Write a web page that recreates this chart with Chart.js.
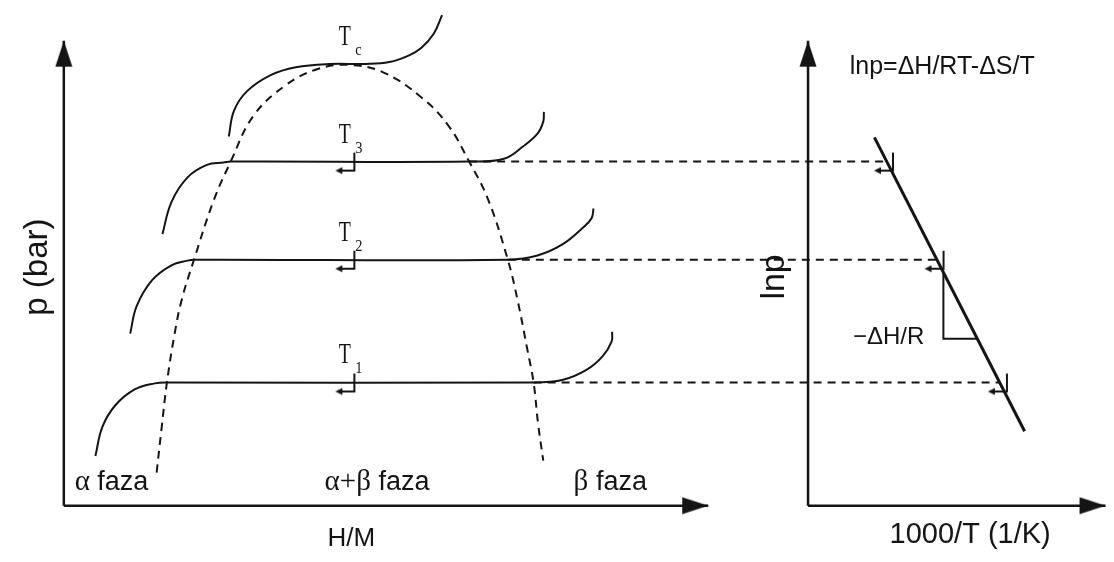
<!DOCTYPE html>
<html>
<head>
    <title>PCT izoterme</title>
    <style type="text/css">
        html, body {
            margin: 0;
            padding: 0;
            background: #fff;
        }

        #wrap {
            width: 1114px;
            height: 562px;
            position: relative;
        }
    </style>
    <script src="https://cdn.jsdelivr.net/npm/chart.js@4.4.1/dist/chart.umd.min.js"></script>
</head>
<body>
    <div id="wrap"><canvas id="pct"></canvas></div>
    <script>
        // left plot: H/M (0..1 along the arrow) vs p (0..1 along the arrow)
        var domeHM = [0.144, 0.152, 0.160, 0.172, 0.183, 0.202, 0.233, 0.259, 0.294, 0.345, 0.394, 0.440,
            0.494, 0.555, 0.597, 0.629, 0.658, 0.689, 0.704, 0.719, 0.729, 0.736, 0.744];
        var domeP = [0.071, 0.170, 0.265, 0.370, 0.443, 0.529, 0.658, 0.740, 0.838, 0.905, 0.939, 0.948,
            0.933, 0.878, 0.817, 0.740, 0.660, 0.529, 0.443, 0.338, 0.265, 0.176, 0.097];

        var t1HM = [0.049, 0.060, 0.080, 0.110, 0.141, 0.160, 0.729, 0.775, 0.811, 0.836, 0.850, 0.851];
        var t1P = [0.107, 0.170, 0.216, 0.250, 0.263, 0.265, 0.265, 0.271, 0.292, 0.321, 0.353, 0.374];
        var t2HM = [0.103, 0.113, 0.137, 0.167, 0.192, 0.202, 0.689, 0.735, 0.775, 0.805, 0.819, 0.822];
        var t2P = [0.370, 0.429, 0.485, 0.517, 0.527, 0.529, 0.529, 0.538, 0.563, 0.597, 0.618, 0.639];
        var t3HM = [0.153, 0.167, 0.192, 0.222, 0.248, 0.259, 0.629, 0.683, 0.713, 0.735, 0.744, 0.745];
        var t3P = [0.584, 0.653, 0.706, 0.733, 0.738, 0.740, 0.740, 0.746, 0.773, 0.800, 0.826, 0.847];
        var tcHM = [0.256, 0.264, 0.284, 0.321, 0.360, 0.413, 0.468, 0.505, 0.535, 0.555, 0.574, 0.587];
        var tcP = [0.794, 0.849, 0.891, 0.926, 0.943, 0.950, 0.950, 0.954, 0.968, 0.985, 1.015, 1.055];

        // plateau levels T1, T2, T3 and where they leave the dome (beta side)
        var plateauP = [0.265, 0.529, 0.740];
        var betaHM = [0.729, 0.689, 0.629];
        var markHM = 0.440;

        // right plot: 1000/T (0..1 along the arrow) vs lnp
        var vhX = [0.223, 0.728];
        var vhP = [0.792, 0.160];
        var tempX = [0.645, 0.432, 0.262];
        var triX = [0.455, 0.455, 0.569];
        var triP = [0.502, 0.359, 0.359];

        var isoNames = ['c', '3', '2', '1'];
        var isoLevels = [0.950, 0.740, 0.529, 0.265];

        // layout of the two arrow axes on the 1114x562 canvas
        var W = 1114, H = 562;
        var orgL = 58, unitL = 652, orgR = 811, unitR = 301;
        var orgY = 511, unitY = 476;
        var ink = '#141414';
        var sans = '"Liberation Sans", Arial, sans-serif';
        var serif = '"Liberation Serif", "Times New Roman", serif';

        function x2ToX(v) {
            return (orgR + v * unitR - orgL) / unitL;
        }

        function pts(xs, ys) {
            return xs.map((x, i) => ({ x: x, y: ys[i] }));
        }

        function makeArrowHead() {
            var c = document.createElement('canvas');
            c.width = 54;
            c.height = 18;
            var g = c.getContext('2d');
            g.fillStyle = ink;
            g.beginPath();
            g.moveTo(27, 9);
            g.lineTo(1, 0.5);
            g.lineTo(1, 17.5);
            g.closePath();
            g.fill();
            return c;
        }

        function makeMarker() {
            var c = document.createElement('canvas');
            c.width = 40;
            c.height = 40;
            var g = c.getContext('2d');
            g.strokeStyle = ink;
            g.lineWidth = 2;
            g.beginPath();
            g.moveTo(27, 11);
            g.lineTo(27, 29);
            g.lineTo(13, 29);
            g.stroke();
            g.fillStyle = ink;
            g.beginPath();
            g.moveTo(8, 29);
            g.lineTo(15, 25.5);
            g.lineTo(15, 32.5);
            g.closePath();
            g.fill();
            return c;
        }

        var arrowHead = makeArrowHead();
        var marker = makeMarker();

        function curve(data, xAxis, opts) {
            return Object.assign({
                data: data,
                xAxisID: xAxis,
                yAxisID: 'y',
                showLine: true,
                borderColor: ink,
                borderWidth: 2,
                pointRadius: 0,
                tension: 0.4,
                fill: false
            }, opts || {});
        }

        function axisArrow(data, xAxis, rotation) {
            return curve(data, xAxis, {
                borderWidth: 2.5,
                tension: 0,
                pointRadius: [0, 1],
                pointStyle: arrowHead,
                pointRotation: rotation
            });
        }

        var datasets = [
            curve(pts(domeHM, domeP), 'x', { borderDash: [8, 6] }),
            curve(pts(t1HM, t1P), 'x'),
            curve(pts(t2HM, t2P), 'x'),
            curve(pts(t3HM, t3P), 'x'),
            curve(pts(tcHM, tcP), 'x'),
            curve(pts(vhX, vhP), 'x2', { borderWidth: 3, tension: 0 }),
            curve(pts(triX, triP), 'x2', { tension: 0 }),
            axisArrow([{ x: 0, y: 0 }, { x: 0, y: 1 }], 'x', -90),
            axisArrow([{ x: 0, y: 0 }, { x: 1, y: 0 }], 'x', 0),
            axisArrow([{ x: 0, y: 0 }, { x: 0, y: 1 }], 'x2', -90),
            axisArrow([{ x: 0, y: 0 }, { x: 1, y: 0 }], 'x2', 0),
            {
                data: plateauP.map(p => ({ x: markHM, y: p })),
                xAxisID: 'x', yAxisID: 'y',
                showLine: false, pointRadius: 1, pointStyle: marker
            },
            {
                data: pts(tempX, plateauP),
                xAxisID: 'x2', yAxisID: 'y',
                showLine: false, pointRadius: 1, pointStyle: marker
            }
        ];

        // dashed tie lines from the beta boundary to the van't Hoff line
        plateauP.forEach((p, i) => {
            datasets.push(curve([{ x: betaHM[i], y: p }, { x: x2ToX(tempX[i]), y: p }], 'x', {
                borderDash: [8, 6],
                tension: 0
            }));
        });

        function drawRuns(ctx, runs, cx, cy) {
            var total = 0;
            runs.forEach(r => {
                ctx.font = r.font;
                r.w = ctx.measureText(r.text).width;
                total += r.w;
            });
            var x = cx - total / 2;
            ctx.textAlign = 'left';
            ctx.textBaseline = 'middle';
            runs.forEach(r => {
                ctx.font = r.font;
                ctx.fillText(r.text, x, cy);
                x += r.w;
            });
        }

        var textPlugin = {
            id: 'diagramText',
            afterDatasetsDraw: function (chart) {
                var ctx = chart.ctx;
                var sx = chart.scales.x, sx2 = chart.scales.x2, sy = chart.scales.y;
                ctx.save();
                ctx.fillStyle = ink;

                // isotherm names
                isoNames.forEach((n, i) => {
                    var px = sx.getPixelForValue(markHM);
                    var py = sy.getPixelForValue(isoLevels[i]);
                    ctx.save();
                    ctx.translate(px - 2.5, py - 19);
                    ctx.scale(0.66, 1);
                    ctx.font = '30px ' + serif;
                    ctx.textAlign = 'center';
                    ctx.textBaseline = 'alphabetic';
                    ctx.fillText('T', 0, 0);
                    ctx.restore();
                    ctx.save();
                    ctx.translate(px + 8, py - 9);
                    ctx.scale(0.85, 1);
                    ctx.font = '17px ' + serif;
                    ctx.textAlign = 'left';
                    ctx.textBaseline = 'alphabetic';
                    ctx.fillText(n, 0, 0);
                    ctx.restore();
                });

                // phase names
                var phaseY = sy.getPixelForValue(0.050);
                drawRuns(ctx, [{ text: 'α', font: '29px ' + serif }, { text: ' faza', font: '27px ' + sans }],
                    sx.getPixelForValue(0.074), phaseY);
                drawRuns(ctx, [{ text: 'α+β', font: '29px ' + serif }, { text: ' faza', font: '27px ' + sans }],
                    sx.getPixelForValue(0.486), phaseY);
                drawRuns(ctx, [{ text: 'β', font: '29px ' + serif }, { text: ' faza', font: '27px ' + sans }],
                    sx.getPixelForValue(0.848), phaseY);

                // axis titles
                ctx.textAlign = 'center';
                ctx.textBaseline = 'middle';
                ctx.font = '26px ' + sans;
                ctx.fillText('H/M', sx.getPixelForValue(0.446), sy.getPixelForValue(-0.071));
                ctx.font = '29px ' + sans;
                ctx.fillText('1000/T (1/K)', sx2.getPixelForValue(0.545), sy.getPixelForValue(-0.063));

                ctx.save();
                ctx.translate(sx.getPixelForValue(-0.040), sy.getPixelForValue(0.513));
                ctx.rotate(-Math.PI / 2);
                ctx.font = '33px ' + sans;
                ctx.fillText('p (bar)', 0, 0);
                ctx.restore();

                ctx.save();
                ctx.translate(sx2.getPixelForValue(-0.112), sy.getPixelForValue(0.492));
                ctx.rotate(-Math.PI / 2);
                ctx.font = '34px ' + sans;
                ctx.fillText('lnp', 0, 0);
                ctx.restore();

                // equation and slope
                ctx.font = '24px ' + sans;
                ctx.fillText('\u2212\u0394H/R', sx2.getPixelForValue(0.271), sy.getPixelForValue(0.361));
                ctx.textAlign = 'left';
                ctx.font = '25px ' + sans;
                ctx.fillText('lnp=\u0394H/RT-\u0394S/T', sx2.getPixelForValue(0.140), sy.getPixelForValue(0.943));

                ctx.restore();
            }
        };

        new Chart(document.getElementById('pct'), {
            type: 'scatter',
            data: { datasets: datasets },
            options: {
                responsive: true,
                maintainAspectRatio: false,
                animation: false,
                events: [],
                layout: { padding: 0 },
                plugins: {
                    legend: { display: false },
                    tooltip: { enabled: false }
                },
                scales: {
                    x: { type: 'linear', axis: 'x', display: false, min: -orgL / unitL, max: (W - orgL) / unitL },
                    x2: { type: 'linear', axis: 'x', display: false, min: -orgR / unitR, max: (W - orgR) / unitR },
                    y: { type: 'linear', axis: 'y', display: false, min: -(H - orgY) / unitY, max: orgY / unitY }
                }
            },
            plugins: [textPlugin]
        });
    </script>
</body>
</html>
